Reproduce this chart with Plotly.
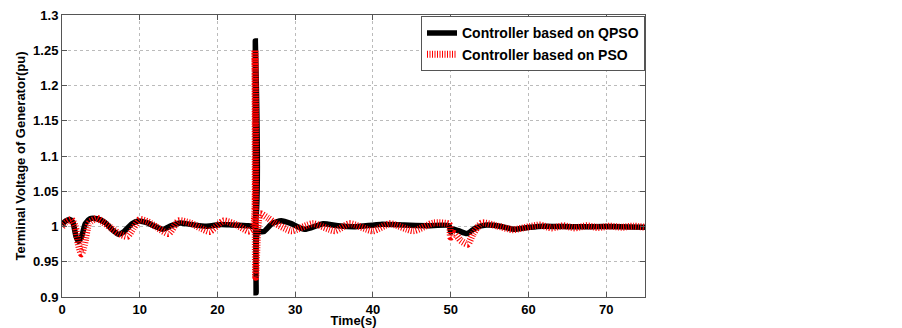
import plotly.graph_objects as go

# ---- data ----
t_qpso = [0, 0.5, 1.0, 1.4, 1.8, 2.1, 2.5, 3.0, 3.6, 4.5, 5.5, 6.5, 7.25, 8.0, 9.0, 9.8,
          11.0, 12.0, 13.0, 14.0, 15.2, 16.5, 18.6, 20.5, 22.0, 24.0, 24.8, 24.87, 24.97,
          25.2, 26.0, 27.0, 28.2, 29.5, 31.2, 33.6, 35.5, 37.8, 41.0, 44.0, 47.0, 49.8,
          50.0, 50.3, 51.0, 52.1, 53.2, 54.6, 56.5, 58.1, 60.2, 62.0, 64.0, 66.0, 70.0, 75.0]
v_qpso = [1.003, 1.008, 1.010, 1.006, 0.986, 0.979, 0.985, 1.004, 1.011, 1.011, 1.006, 0.995,
          0.989, 0.993, 1.004, 1.0077, 1.005, 1.000, 0.996, 1.001, 1.005, 1.003, 1.0005, 1.003,
          1.002, 1.001, 1.001, 1.263, 0.906, 0.992, 0.993, 1.004, 1.008, 1.004, 0.996, 1.004,
          1.001, 0.9997, 1.003, 1.002, 1.001, 1.001, 0.992, 0.996, 0.994, 0.990, 0.998, 1.002,
          1.000, 0.996, 0.999, 1.0005, 1.000, 0.9995, 1.000, 0.999]

t_pso = [0, 0.5, 1.2, 1.7, 2.1, 2.5, 2.9, 3.5, 4.5, 5.3, 6.3, 7.3, 8.4, 9.2, 10.0, 11.0,
         12.2, 13.7, 15.0, 16.5, 17.8, 19.0, 20.8, 22.5, 24.0, 24.6, 24.82, 24.92, 25.2,
         25.5, 26.5, 27.4, 29.5, 32.3, 35.1, 37.0, 40.0, 42.2, 45.2, 47.8, 49.8, 50.0, 50.5,
         51.3, 52.2, 52.9, 54.0, 55.9, 58.0, 60.2, 61.5, 63.0, 64.5, 66.0, 67.5, 69.0, 70.5,
         72.0, 73.5, 75.0]
v_pso = [1.000, 1.006, 1.010, 1.000, 0.975, 0.961, 0.975, 1.005, 1.0115, 1.006, 0.998, 0.990,
         0.986, 0.998, 1.0098, 1.007, 0.999, 0.990, 1.008, 1.005, 0.998, 0.993, 1.008, 1.002,
         0.9935, 0.998, 1.250, 0.928, 1.000, 1.018, 1.012, 1.005, 0.994, 1.004, 0.994, 1.004,
         0.994, 1.004, 0.994, 1.005, 1.003, 0.985, 0.990, 0.980, 0.975, 0.990, 1.005, 1.001,
         0.9955, 1.000, 1.002, 0.998, 1.001, 0.998, 1.001, 0.9985, 1.0005, 0.999, 1.0005, 0.999]

x_ticks = [0, 10, 20, 30, 40, 50, 60, 70]
y_ticks = [0.9, 0.95, 1.0, 1.05, 1.1, 1.15, 1.2, 1.25, 1.3]
y_tick_text = ["0.9", "0.95", "1", "1.05", "1.1", "1.15", "1.2", "1.25", "1.3"]

series_names = ["Controller based on QPSO", "Controller based on PSO"]

FONT = "Liberation Sans, Arial, sans-serif"

fig = go.Figure()
fig.add_trace(go.Scatter(x=t_qpso, y=v_qpso, mode="lines", name=series_names[0],
                         line=dict(color="black", width=5.5, shape="spline", smoothing=0.6)))
fig.add_trace(go.Scatter(x=t_pso, y=v_pso, mode="lines", name=series_names[1],
                         line=dict(color="red", width=7, dash="1px,1.5px",
                                   shape="spline", smoothing=0.6)))

axis_common = dict(
    showline=True, linecolor="#555", linewidth=1, mirror="ticks",
    ticks="inside", ticklen=5, tickcolor="#555",
    showgrid=True, gridcolor="#bbb", griddash="dot", gridwidth=1,
    zeroline=False, automargin=False, ticklabeloverflow="allow",
    tickfont=dict(family=FONT, size=13, color="black", weight="bold"),
)

fig.update_xaxes(range=[0, 75], tickvals=x_ticks,
                 title=dict(text="Time(s)", standoff=4,
                            font=dict(family=FONT, size=13, color="black", weight="bold")),
                 **axis_common)
fig.update_yaxes(range=[0.9, 1.3], tickvals=y_ticks, ticktext=y_tick_text,
                 title=dict(text="Terminal Voltage of Generator(pu)", standoff=4,
                            font=dict(family=FONT, size=13, color="black", weight="bold")),
                 **axis_common)

# the page body adds an 8 px offset, so the figure is sized/margined to compensate
fig.update_layout(
    width=894, height=320,
    margin=dict(l=54, r=257, t=7, b=31),
    paper_bgcolor="white", plot_bgcolor="white",
    showlegend=True,
    legend=dict(x=1, y=0.995, xanchor="right", yanchor="top",
                bgcolor="white", bordercolor="#555", borderwidth=1,
                itemwidth=30, tracegroupgap=0,
                font=dict(family=FONT, size=14, color="black", weight="bold")),
)

fig.write_html("out.html")
